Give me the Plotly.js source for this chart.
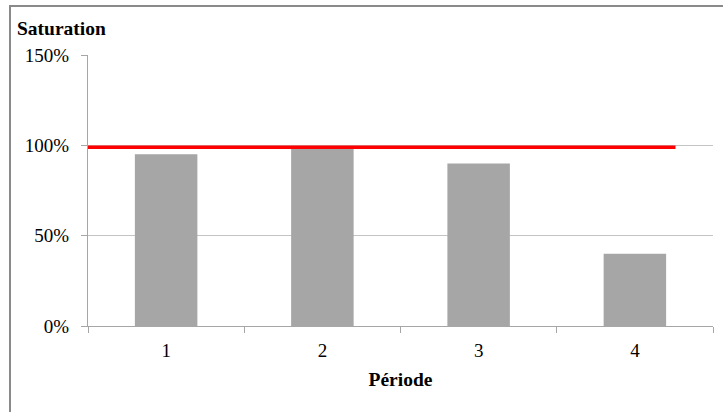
<!DOCTYPE html>
<html>
<head>
<meta charset="utf-8">
<script src="https://cdn.plot.ly/plotly-3.0.1.min.js"></script>
<style>
  html, body { margin: 0; padding: 0; background: #fff; }
  #chart { position: absolute; left: 0; top: 0; width: 723px; height: 412px; }
  #frame { position: absolute; left: 9px; top: 5px; width: 800px; height: 500px;
           border-left: 2px solid #8a8a8a; border-top: 2px solid #8a8a8a; pointer-events: none; }
</style>
</head>
<body>
<div id="chart"></div>
<div id="frame"></div>
<script>
// Data
const periodes = [1, 2, 3, 4];
const periodeLabels = ['1', '2', '3', '4'];
const saturation = [95, 98, 90, 40];
const seuilX = [0.48, 4.26];
const seuilY = [99, 99];
const yTicks = [0, 50, 100, 150];
const yTickLabels = ['0%', '50%', '100%', '150%'];
const boundaries = [0.5, 1.5, 2.5, 3.5, 4.5];

const serif = 'Liberation Serif, Times New Roman, serif';

const traces = [
  {
    type: 'bar',
    x: periodes,
    y: saturation,
    width: 0.4,
    marker: { color: '#a6a6a6', line: { width: 0 } },
    hoverinfo: 'skip'
  },
  {
    type: 'scatter',
    mode: 'lines',
    x: seuilX,
    y: seuilY,
    line: { color: '#ff0000', width: 3.5 },
    cliponaxis: false,
    hoverinfo: 'skip'
  }
];

const layout = {
  width: 723,
  height: 412,
  margin: { l: 88, r: 10, t: 55, b: 86 },
  paper_bgcolor: '#ffffff',
  plot_bgcolor: '#ffffff',
  showlegend: false,
  font: { family: serif, size: 19, color: '#000' },
  title: {
    text: '<b>Saturation</b>',
    font: { family: serif, size: 19.5, color: '#000' },
    xref: 'container', yref: 'container',
    x: 17 / 723, xanchor: 'left',
    y: 1 - 28 / 412, yanchor: 'middle'
  },
  xaxis: {
    range: [0.5, 4.5],
    tickvals: periodes,
    ticktext: periodeLabels,
    ticks: '',
    ticklabelstandoff: 7,
    showgrid: false,
    zeroline: false,
    showline: true,
    linecolor: '#a6a6a6',
    linewidth: 1,
    tickfont: { family: serif, size: 19, color: '#000' },
    minor: { tickvals: boundaries, ticks: 'outside', ticklen: 6, tickcolor: '#a6a6a6', tickwidth: 1, showgrid: false },
    title: { text: '<b>Période</b>', font: { family: serif, size: 19.5, color: '#000' }, standoff: 12 }
  },
  yaxis: {
    range: [0, 150],
    tickvals: yTicks,
    ticktext: yTickLabels,
    ticks: 'outside',
    ticklen: 6,
    tickcolor: '#a6a6a6',
    ticklabelstandoff: 8,
    showgrid: true,
    gridcolor: '#c4c4c4',
    gridwidth: 1,
    zeroline: false,
    showline: true,
    linecolor: '#a6a6a6',
    linewidth: 1,
    tickfont: { family: serif, size: 19, color: '#000' }
  }
};

Plotly.newPlot('chart', traces, layout, { displayModeBar: false, staticPlot: true });
</script>
</body>
</html>
